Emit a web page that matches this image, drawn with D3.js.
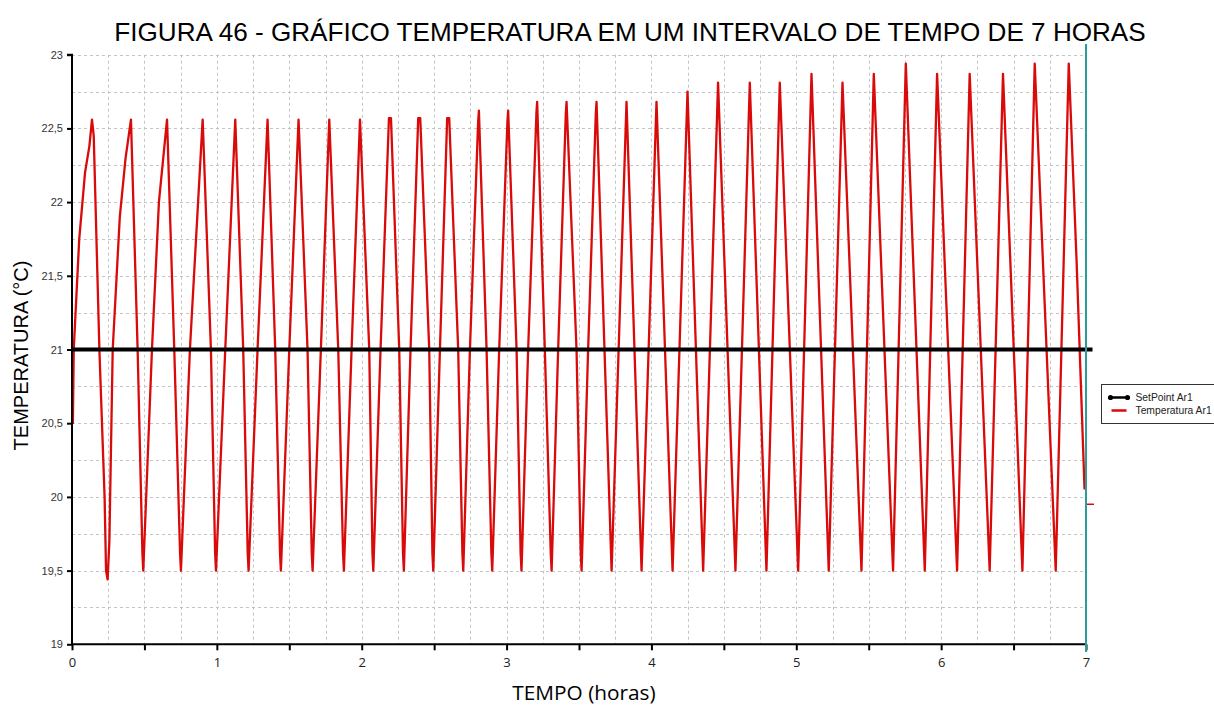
<!DOCTYPE html>
<html>
<head>
<meta charset="utf-8">
<script src="https://cdn.jsdelivr.net/npm/d3@7"></script>
<style>
  html, body { margin: 0; padding: 0; background: #fff; }
  svg { display: block; }
</style>
</head>
<body>
<svg id="chart" width="1214" height="707"></svg>
<script>
// ---- data ----
const titleText = "FIGURA 46 - GRÁFICO TEMPERATURA EM UM INTERVALO DE TEMPO DE 7 HORAS";
const xLabelText = "TEMPO (horas)";
const yLabelText = "TEMPERATURA (°C)";
const seriesNames = ["SetPoint Ar1", "Temperatura Ar1"];

const xTickValues = [0, 1, 2, 3, 4, 5, 6, 7];
const yTickValues = [19, 19.5, 20, 20.5, 21, 21.5, 22, 22.5, 23];

// setpoint series (hours, °C)
const setpointTime = [0, 7.045];
const setpointTemp = [21, 21];

// temperature series (hours, °C): peaks, troughs and setpoint crossings
const tempTime = [
  0.000, 0.006, 0.012, 0.050, 0.090, 0.120, 0.138, 0.150, 0.189, 0.225, 0.235, 0.246, 0.258, 0.281, 0.330, 0.370,
  0.407, 0.453, 0.486, 0.492, 0.552, 0.600, 0.656, 0.706, 0.746, 0.752, 0.814, 0.902, 0.959, 0.988, 0.994,
  1.058, 1.127, 1.182, 1.213, 1.219, 1.281, 1.350, 1.403, 1.436, 1.442, 1.500, 1.564, 1.626, 1.655, 1.661,
  1.718, 1.776, 1.838, 1.871, 1.877, 1.930, 1.988, 2.052, 2.074, 2.080, 2.130, 2.188, 2.202, 2.259, 2.285, 2.291,
  2.337, 2.390, 2.404, 2.466, 2.488, 2.494, 2.540, 2.590, 2.604, 2.666, 2.695, 2.701, 2.747, 2.804, 2.809,
  2.862, 2.895, 2.901, 2.949, 3.006, 3.011, 3.069, 3.097, 3.103, 3.149, 3.206, 3.211, 3.264, 3.305, 3.311,
  3.356, 3.409, 3.414, 3.483, 3.512, 3.518, 3.563, 3.616, 3.621, 3.725, 3.828, 3.932, 4.035, 4.146,
  4.249, 4.357, 4.460, 4.580, 4.679, 4.794, 4.886, 5.013, 5.105, 5.224, 5.319, 5.450, 5.535, 5.668,
  5.756, 5.887, 5.972, 6.110, 6.197, 6.335, 6.427, 6.561, 6.646, 6.791, 6.881, 6.935, 6.990
];
const tempValue = [
  20.50, 20.50, 21.00, 21.75, 22.20, 22.38, 22.56, 22.45, 21.00, 20.00, 19.50, 19.44, 19.70, 21.00, 21.90, 22.30,
  22.56, 21.00, 19.62, 19.50, 21.00, 22.00, 22.56, 21.00, 19.62, 19.50, 21.00, 22.56, 21.00, 19.62, 19.50,
  21.00, 22.56, 21.00, 19.62, 19.50, 21.00, 22.56, 21.00, 19.62, 19.50, 21.00, 22.56, 21.00, 19.62, 19.50,
  21.00, 22.56, 21.00, 19.62, 19.50, 21.00, 22.56, 21.00, 19.62, 19.50, 21.00, 22.57, 22.57, 21.00, 19.62, 19.50,
  21.00, 22.57, 22.57, 21.00, 19.62, 19.50, 21.00, 22.57, 22.57, 21.00, 19.62, 19.50, 21.00, 22.55, 22.62,
  21.00, 19.62, 19.50, 21.00, 22.55, 22.62, 21.00, 19.62, 19.50, 21.00, 22.60, 22.68, 21.00, 19.62, 19.50,
  21.00, 22.60, 22.68, 21.00, 19.62, 19.50, 21.00, 22.60, 22.68, 19.50, 22.68, 19.50, 22.68, 19.50,
  22.75, 19.50, 22.81, 19.50, 22.81, 19.50, 22.81, 19.50, 22.87, 19.50, 22.81, 19.50, 22.87, 19.50,
  22.94, 19.50, 22.87, 19.50, 22.87, 19.50, 22.87, 19.50, 22.94, 19.50, 22.94, 21.60, 20.05
];
// current-value marker at the right edge
const lastMarkerTemp = [19.95];

// ---- drawing ----
const svg = d3.select("#chart");
const X0 = 72, X1 = 1086, Y0 = 54.7, Y1 = 644.3;
const x = d3.scaleLinear().domain([0, 7]).range([X0, X1]);
const y = d3.scaleLinear().domain([19, 23]).range([Y1, Y0]);

// title
svg.append("text")
  .attr("x", 630).attr("y", 41)
  .attr("text-anchor", "middle")
  .attr("font-family", "Liberation Sans, Arial, sans-serif")
  .attr("font-size", 26.1)
  .attr("fill", "#000")
  .text(titleText);

// grid
const grid = svg.append("g").attr("stroke", "#c4c4c4").attr("stroke-width", 1).attr("stroke-dasharray", "3,3");
grid.selectAll("line.h").data(d3.range(19.25, 23.01, 0.25)).join("line")
  .attr("x1", X0).attr("x2", X1)
  .attr("y1", d => Math.round(y(d)) + 0.5).attr("y2", d => Math.round(y(d)) + 0.5);
grid.selectAll("line.v").data(d3.range(0.25, 6.99, 0.25)).join("line")
  .attr("x1", d => Math.round(x(d)) + 0.5).attr("x2", d => Math.round(x(d)) + 0.5)
  .attr("y1", Y0).attr("y2", Y1);

// temperature line
const tempData = tempTime.map((t, i) => [t, tempValue[i]]);
svg.append("path")
  .datum(tempData)
  .attr("fill", "none")
  .attr("stroke", "#d90a0a")
  .attr("stroke-width", 2.3)
  .attr("stroke-linejoin", "round")
  .attr("d", d3.line().x(d => x(d[0])).y(d => y(d[1])));

// setpoint line
const spData = setpointTime.map((t, i) => [t, setpointTemp[i]]);
svg.append("path")
  .datum(spData)
  .attr("fill", "none")
  .attr("stroke", "#000")
  .attr("stroke-width", 4)
  .attr("d", d3.line().x(d => x(d[0])).y(d => y(d[1])));

// axes
const yAxis = d3.axisLeft(y).tickValues(yTickValues).tickSize(5).tickPadding(4)
  .tickFormat(d => String(d).replace(".", ","));
const gy = svg.append("g").attr("transform", `translate(${X0},0)`).call(yAxis);
gy.select(".domain").attr("stroke", "#000").attr("stroke-width", 2).attr("d", `M-5,${Y0}H0V${Y1}`);
gy.selectAll(".tick line").attr("stroke", "#000").attr("stroke-width", 2);
gy.selectAll(".tick text").attr("font-family", "Liberation Sans, Arial, sans-serif")
  .attr("font-size", 11).attr("fill", "#333");

const xAxis = d3.axisBottom(x).tickValues(d3.range(0, 7.01, 0.5)).tickSize(6).tickPadding(7)
  .tickFormat(d => xTickValues.includes(d) ? String(d) : "");
const gx = svg.append("g").attr("transform", `translate(0,${Y1})`).call(xAxis);
gx.select(".domain").attr("stroke", "#000").attr("stroke-width", 2).attr("d", `M${X0},0H${X1}`);
gx.selectAll(".tick line").attr("stroke", "#000").attr("stroke-width", 2);
gx.selectAll(".tick text").attr("font-family", "Open Sans, sans-serif")
  .attr("font-size", 13).attr("fill", "#222");

// teal cursor line at the end
svg.append("line")
  .attr("x1", x(7)).attr("x2", x(7)).attr("y1", 44).attr("y2", 652)
  .attr("stroke", "#2a9c9a").attr("stroke-width", 2);

// last value marker
svg.append("line")
  .attr("x1", x(7) + 1).attr("x2", x(7) + 8)
  .attr("y1", y(lastMarkerTemp[0])).attr("y2", y(lastMarkerTemp[0]))
  .attr("stroke", "#d90a0a").attr("stroke-width", 1.5);

// axis titles
svg.append("text")
  .attr("transform", `translate(28,${(Y0 + Y1) / 2 + 6}) rotate(-90)`)
  .attr("text-anchor", "middle")
  .attr("font-family", "Liberation Sans, Arial, sans-serif")
  .attr("font-size", 20)
  .attr("fill", "#000")
  .text(yLabelText);

svg.append("text")
  .attr("x", 584).attr("y", 700)
  .attr("text-anchor", "middle")
  .attr("font-family", "Open Sans, sans-serif")
  .attr("font-size", 20.8)
  .attr("fill", "#000")
  .text(xLabelText);

// legend
const lg = svg.append("g").attr("transform", "translate(1101.5,384.5)");
lg.append("rect").attr("width", 120).attr("height", 39)
  .attr("fill", "#fff").attr("stroke", "#333").attr("stroke-width", 1);
lg.append("line").attr("x1", 9).attr("x2", 26).attr("y1", 13).attr("y2", 13)
  .attr("stroke", "#000").attr("stroke-width", 2.5);
lg.selectAll("circle.m").data([9, 26]).join("circle")
  .attr("cx", d => d).attr("cy", 13).attr("r", 2.6).attr("fill", "#000");
lg.append("line").attr("x1", 10).attr("x2", 25).attr("y1", 26).attr("y2", 26)
  .attr("stroke", "#d90a0a").attr("stroke-width", 2.5);
lg.selectAll("text.l").data(seriesNames).join("text")
  .attr("x", 34).attr("y", (d, i) => 16.5 + i * 13)
  .attr("font-family", "Liberation Sans, Arial, sans-serif")
  .attr("font-size", 10.3)
  .attr("fill", "#222")
  .text(d => d);
</script>
</body>
</html>
